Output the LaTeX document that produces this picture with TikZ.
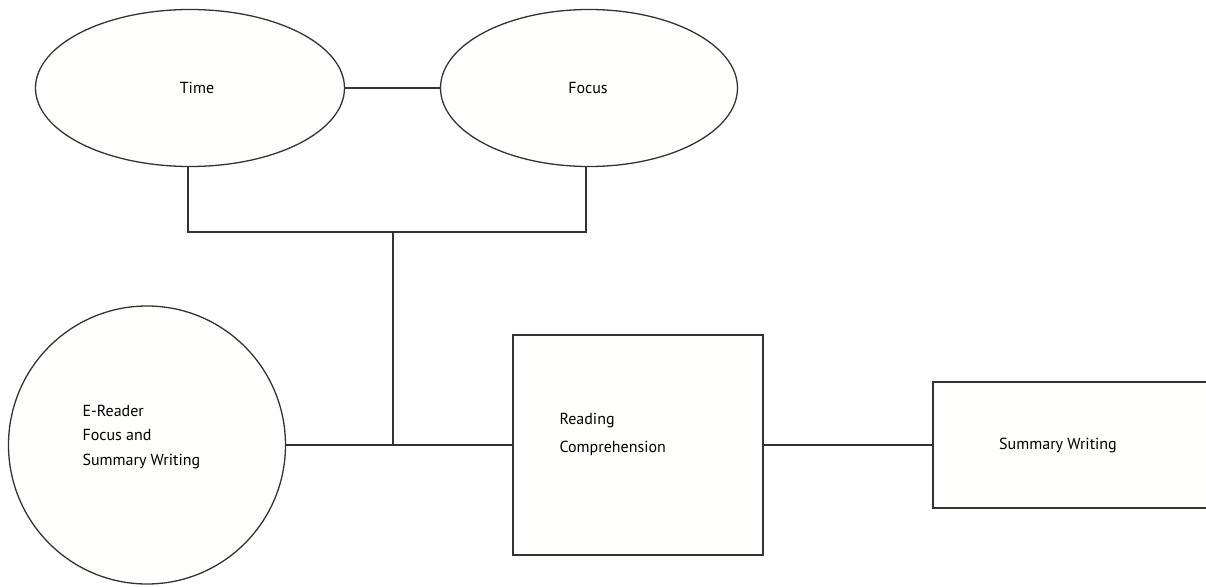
\documentclass[tikz,border=0pt]{standalone}
\usepackage{fontspec}
\setmainfont{PT Sans}
\usetikzlibrary{shapes.geometric}
\definecolor{boxfill}{HTML}{FEFEFC}
\definecolor{ink}{HTML}{333333}
\begin{document}
\begin{tikzpicture}[x=1pt,y=-1pt,
  every node/.style={font=\fontsize{16}{24.5}\selectfont, text=black},
  shapeline/.style={draw=ink, line width=1.3pt, fill=boxfill},
  oval/.style={shapeline, ellipse, inner sep=0pt},
  rectbox/.style={shapeline, rectangle, inner sep=0pt},
  link/.style={draw=ink, line width=1.3pt}]
\useasboundingbox (0,0) rectangle (1206,586);
\clip (0,0) rectangle (1206,586);
% shapes
\node[oval, minimum width=309pt, minimum height=157pt] (time) at (190,88) {};
\node[oval, minimum width=297pt, minimum height=157pt] (focus) at (589,88) {};
\node[oval, minimum width=277pt, minimum height=278pt] (ereader) at (147,445) {};
\node[rectbox, minimum width=250pt, minimum height=220pt] (rc) at (638,445) {};
\node[rectbox, minimum width=290pt, minimum height=126pt] (sw) at (1078,445) {};
% labels
\node (ttime) at (197,88) {Time};
\node (tfocus) at (588,88) {Focus};
\node[anchor=west, align=left] (tereader) at (79,437) {E-Reader\\Focus and\\Summary Writing};
\node[anchor=west, align=left, font=\fontsize{16}{28}\selectfont] (trc) at (556,434) {Reading\\Comprehension};
\node (tsw) at (1058,445) {Summary Writing};
% junctions
\coordinate (jl) at (188,232);
\coordinate (jr) at (586,232);
\coordinate (jm) at (393,232);
\coordinate (jb) at (393,445);
% connectors
\draw[link] (time.east) -- (focus.west);
\draw[link] (time.south -| jl) -- (jl) -- (jr) -- (focus.south -| jr);
\draw[link] (jm) -- (jb);
\draw[link] (ereader.east) -- (rc.west);
\draw[link] (rc.east) -- (sw.west);
\end{tikzpicture}
\end{document}
